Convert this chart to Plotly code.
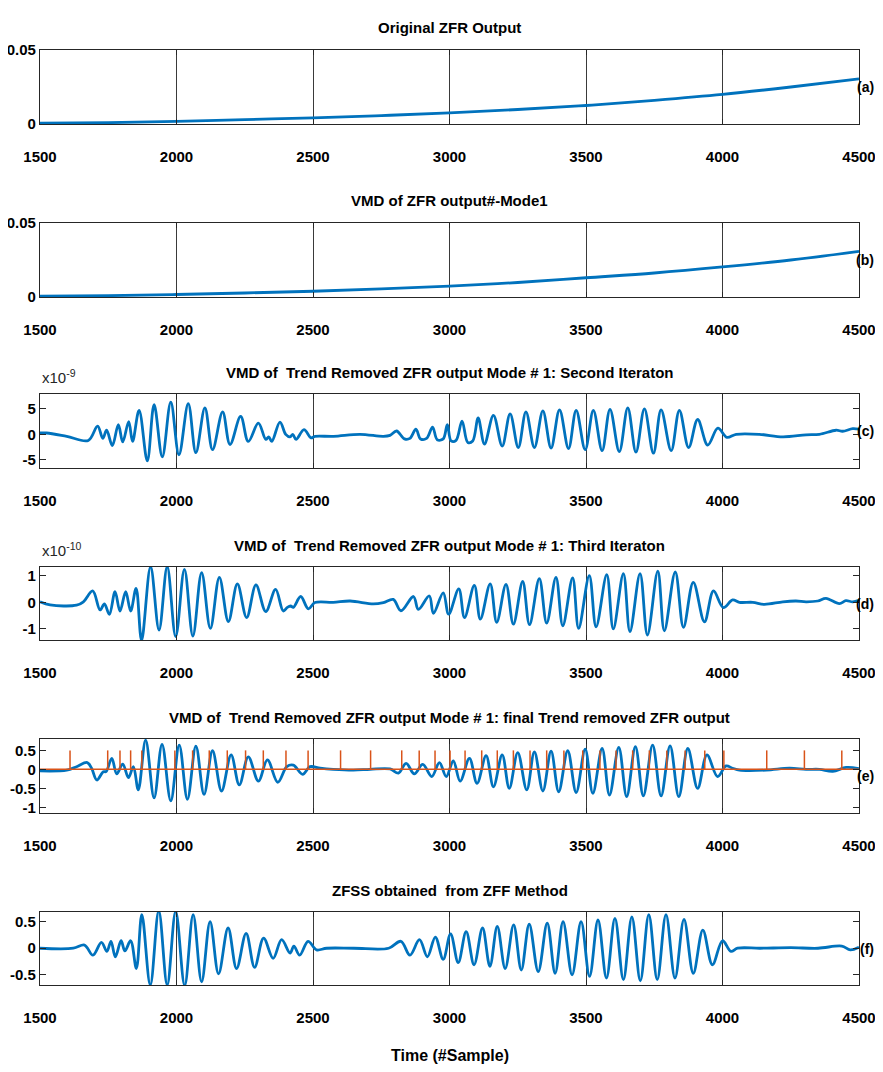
import plotly.graph_objects as go

# ---------------- data ----------------
x_ticks = [1500, 2000, 2500, 3000, 3500, 4000, 4500]

a_x = [1500, 1750, 2000, 2250, 2500, 2750, 3000, 3250, 3500, 3750, 4000, 4250, 4500]
a_y = [0.0005, 0.0009, 0.0018, 0.003, 0.0041, 0.0057, 0.0075, 0.0098, 0.0125, 0.016, 0.020, 0.025, 0.0305]

b_x = [1500, 1750, 2000, 2250, 2500, 2750, 3000, 3250, 3500, 3750, 4000, 4250, 4500]
b_y = [0.0005, 0.0009, 0.0017, 0.0027, 0.0039, 0.0055, 0.0074, 0.0098, 0.013, 0.0162, 0.0203, 0.025, 0.0309]

# panel (c): values in units of 1e-9
c_x = [1500, 1524, 1598, 1677, 1711, 1730, 1744, 1765, 1787, 1803, 1825, 1839, 1863, 1893, 1918, 1948,
       1979, 2009, 2043, 2071, 2104, 2132, 2169, 2196, 2235, 2263, 2300, 2327, 2338, 2349, 2379, 2400,
       2416, 2426, 2438, 2467, 2493, 2507, 2575, 2672, 2758, 2782, 2806, 2835, 2855, 2877, 2894, 2916,
       2938, 2955, 2977, 2992, 3006, 3024, 3046, 3067, 3085, 3105, 3128, 3161, 3193, 3222, 3252, 3280,
       3311, 3342, 3372, 3403, 3436, 3464, 3497, 3527, 3559, 3588, 3622, 3653, 3683, 3714, 3747, 3775,
       3812, 3842, 3876, 3909, 3946, 3983, 4016, 4050, 4135, 4221, 4306, 4355, 4416, 4440, 4477, 4500]
c_y = [0.26, 0.26, -0.4, -1.2, 1.6, -0.8, 0.8, -2.2, 1.9, -1.5, 2.5, -1.4, 4.7, -5.2, 5.8, -4.4,
       6.3, -4.0, 6.0, -3.6, 5.2, -3.0, 4.4, -2.0, 3.5, -1.4, 2.2, -1.0, -0.5, -1.4, 2.4, 0.0,
       -0.5, 0.0, -1.0, 0.9, -0.7, -0.4, -0.4, 0.0, -0.4, -0.2, 0.65, -0.9, -0.8, 1.0, -0.9, -0.8,
       1.4, -1.05, -0.9, 1.9, -1.3, -1.2, 2.6, -1.6, -1.3, 3.2, -1.9, 3.7, -2.3, 4.0, -2.6, 4.4,
       -2.6, 4.6, -2.7, 4.8, -2.8, 4.7, -3.0, 4.7, -3.2, 4.9, -3.4, 5.2, -3.5, 5.0, -3.7, 4.8,
       -3.2, 4.7, -2.6, 2.9, -2.1, 1.2, -0.6, 0.0, 0.0, -0.5, -0.1, 0.0, 0.8, 0.6, 1.1, 1.0]
c_scale = 1e-9

# panel (d): values in units of 1e-10
d_x = [1500, 1537, 1634, 1659, 1693, 1720, 1736, 1754, 1775, 1793, 1814, 1832, 1852, 1872, 1905, 1936,
       1966, 1997, 2029, 2060, 2092, 2124, 2157, 2190, 2223, 2257, 2291, 2327, 2363, 2391, 2406, 2418,
       2428, 2455, 2483, 2507, 2574, 2636, 2721, 2758, 2794, 2822, 2868, 2886, 2926, 2941, 2977, 2997,
       3034, 3055, 3091, 3113, 3149, 3173, 3207, 3234, 3268, 3293, 3329, 3356, 3390, 3415, 3451, 3473,
       3512, 3537, 3576, 3600, 3637, 3661, 3698, 3725, 3763, 3787, 3827, 3857, 3893, 3934, 3967, 4003,
       4037, 4062, 4111, 4153, 4221, 4269, 4306, 4349, 4379, 4428, 4452, 4477, 4500]
d_y = [0.02, -0.1, -0.11, 0.02, 0.43, -0.29, -0.06, -0.46, 0.4, -0.33, 0.4, -0.33, 0.53, -1.45, 1.35, -1.05,
       1.35, -1.3, 1.25, -1.28, 1.13, -0.99, 0.95, -0.73, 0.7, -0.58, 0.66, -0.35, 0.49, -0.33, -0.19, -0.14,
       -0.19, 0.22, -0.25, -0.01, 0.0, 0.05, -0.06, -0.01, 0.11, -0.32, 0.22, -0.27, 0.24, -0.42, 0.36, -0.45,
       0.51, -0.58, 0.64, -0.64, 0.7, -0.76, 0.68, -0.83, 0.79, -0.85, 0.9, -0.79, 0.95, -0.89, 0.93, -0.99,
       1.01, -0.93, 1.05, -1.01, 1.09, -1.11, 1.09, -1.24, 1.18, -1.08, 1.15, -0.95, 0.76, -0.74, 0.43, -0.2,
       0.09, 0.0, 0.0, -0.08, 0.02, 0.05, 0.02, 0.05, 0.15, -0.05, 0.06, 0.02, 0.08]
d_scale = 1e-10

e_x = [1500, 1598, 1634, 1673, 1689, 1708, 1732, 1742, 1763, 1781, 1803, 1824, 1842, 1860, 1887, 1918,
       1947, 1979, 2010, 2040, 2071, 2101, 2132, 2165, 2200, 2230, 2263, 2300, 2333, 2371, 2404, 2428,
       2462, 2489, 2526, 2574, 2648, 2709, 2782, 2813, 2841, 2871, 2902, 2935, 2963, 2988, 3014, 3039,
       3073, 3101, 3134, 3161, 3193, 3219, 3250, 3283, 3311, 3342, 3372, 3400, 3433, 3464, 3497, 3525,
       3559, 3586, 3620, 3649, 3681, 3710, 3744, 3775, 3808, 3840, 3873, 3909, 3943, 3982, 4013, 4037,
       4062, 4160, 4245, 4306, 4355, 4404, 4453, 4500]
e_y = [-0.04, -0.02, 0.07, 0.18, 0.03, -0.28, -0.06, -0.06, 0.29, -0.12, 0.14, -0.22, 0.07, -0.54, 0.77, -0.75,
       0.66, -0.83, 0.64, -0.79, 0.61, -0.66, 0.49, -0.57, 0.38, -0.41, 0.33, -0.31, 0.25, -0.34, 0.07, 0.11,
       -0.13, 0.07, 0.03, 0.0, -0.02, 0.0, 0.01, -0.1, 0.16, -0.12, 0.13, -0.19, 0.18, -0.19, 0.22, -0.31,
       0.29, -0.37, 0.36, -0.46, 0.38, -0.5, 0.44, -0.54, 0.46, -0.57, 0.48, -0.59, 0.49, -0.61, 0.53, -0.63,
       0.55, -0.68, 0.58, -0.72, 0.6, -0.7, 0.64, -0.7, 0.62, -0.72, 0.55, -0.5, 0.38, -0.19, 0.09, 0.03,
       -0.02, -0.02, 0.03, 0.0, 0.0, -0.05, 0.05, 0.02]

e_stem_x = [1610, 1748, 1793, 1832, 1873, 1994, 2059, 2120, 2186, 2253, 2318, 2401, 2482, 2601, 2711,
            2825, 2889, 2947, 3002, 3057, 3118, 3175, 3234, 3295, 3356, 3419, 3488, 3551, 3610, 3671,
            3732, 3796, 3863, 3935, 4005, 4162, 4300, 4437]
e_stem_height = 0.5

f_x = [1500, 1622, 1663, 1694, 1725, 1745, 1760, 1776, 1797, 1811, 1832, 1853, 1873, 1904, 1935, 1966,
       1997, 2030, 2061, 2092, 2123, 2154, 2189, 2220, 2255, 2286, 2319, 2354, 2385, 2416, 2430, 2451,
       2482, 2513, 2550, 2650, 2777, 2822, 2855, 2890, 2919, 2948, 2977, 3004, 3032, 3061, 3090, 3121,
       3148, 3175, 3204, 3235, 3263, 3292, 3325, 3358, 3387, 3416, 3449, 3482, 3513, 3544, 3575, 3606,
       3637, 3668, 3699, 3730, 3761, 3793, 3826, 3859, 3893, 3928, 3963, 4000, 4031, 4055, 4138, 4250,
       4350, 4437, 4468, 4500]
f_y = [0.0, 0.0, 0.06, -0.13, 0.11, -0.06, 0.13, -0.16, 0.14, -0.05, 0.14, -0.38, 0.63, -0.69, 0.7, -0.69,
       0.69, -0.7, 0.63, -0.63, 0.5, -0.48, 0.38, -0.38, 0.28, -0.36, 0.19, -0.19, 0.16, -0.09, 0.04, -0.13,
       0.13, -0.03, 0.0, 0.0, 0.0, 0.13, -0.13, 0.16, -0.16, 0.21, -0.21, 0.27, -0.27, 0.31, -0.31, 0.38,
       -0.34, 0.41, -0.38, 0.44, -0.41, 0.45, -0.44, 0.47, -0.47, 0.5, -0.5, 0.5, -0.53, 0.53, -0.56, 0.56,
       -0.59, 0.59, -0.61, 0.63, -0.59, 0.63, -0.56, 0.54, -0.47, 0.34, -0.31, 0.14, -0.06, 0.0, 0.0, 0.01,
       0.0, 0.04, -0.03, 0.02]

titles = ["Original ZFR Output",
          "VMD of ZFR output#-Mode1",
          "VMD of  Trend Removed ZFR output Mode # 1: Second Iteraton",
          "VMD of  Trend Removed ZFR output Mode # 1: Third Iteraton",
          "VMD of  Trend Removed ZFR output Mode # 1: final Trend removed ZFR output",
          "ZFSS obtained  from ZFF Method"]
panel_tags = ["(a)", "(b)", "(c)", "(d)", "(e)", "(f)"]
x_label = "Time (#Sample)"

for xs, ys in [(a_x, a_y), (b_x, b_y), (c_x, c_y), (d_x, d_y), (e_x, e_y), (f_x, f_y)]:
    assert len(xs) == len(ys), (len(xs), len(ys))

# ---------------- layout / style ----------------
OFF = 8                      # the page body has an 8px default margin
W, H = 883 - 2 * OFF, 1072 - 2 * OFF   # sized so that the page never overflows (no scrollbars)
PL, PR = 40 - OFF, 859 - OFF
panel_px = [(50, 124), (223, 297), (394, 468), (567, 640), (739, 813), (912, 985)]
panel_px = [(t - OFF, b - OFF) for t, b in panel_px]
BLUE = "#0072BD"
ORANGE = "#D95319"
AX = "#262626"
FONT = "Liberation Sans, Arial, Helvetica, sans-serif"
TICK_SIZE = 15
TITLE_SIZE = 15

series = [
    (a_x, a_y),
    (b_x, b_y),
    (c_x, [v * c_scale for v in c_y]),
    (d_x, [v * d_scale for v in d_y]),
    (e_x, e_y),
    (f_x, f_y),
]
y_ranges = [[0, 0.05], [0, 0.05], [-6.6e-9, 7.9e-9], [-1.43e-10, 1.34e-10], [-1.15, 0.8], [-0.69, 0.68]]
y_tickvals = [[0, 0.05], [0, 0.05], [-5e-9, 0, 5e-9], [-1e-10, 0, 1e-10], [-1, -0.5, 0, 0.5], [-0.5, 0, 0.5]]
y_ticktext = [["0", "0.05"], ["0", "0.05"], ["-5", "0", "5"], ["-1", "0", "1"],
              ["-1", "-0.5", "0", "0.5"], ["-0.5", "0", "0.5"]]

fig = go.Figure()
layout = dict(width=W, height=H, margin=dict(l=0, r=0, t=0, b=0, autoexpand=False),
              paper_bgcolor="white", plot_bgcolor="white", showlegend=False,
              font=dict(family=FONT, color="#000000"))
annotations = []


def py(p):
    return 1 - p / H


for i in range(6):
    n = "" if i == 0 else str(i + 1)
    xs, ys = series[i]
    fig.add_trace(go.Scatter(x=xs, y=ys, mode="lines", line=dict(color=BLUE, width=2.8, shape="spline"),
                             xaxis="x" + n, yaxis="y" + n, hoverinfo="skip"))
    top, bot = panel_px[i]
    layout["xaxis" + n] = dict(domain=[PL / W, PR / W], anchor="y" + n, range=[1500, 4500],
                               automargin=False, ticklabeloverflow="allow",
                               tickvals=x_ticks, ticktext=[str(v) for v in x_ticks],
                               showgrid=True, gridcolor="#3a3a3a", gridwidth=1,
                               showline=True, linecolor=AX, linewidth=1.3, mirror="ticks",
                               ticks="inside", ticklen=5, tickcolor=AX, zeroline=False,
                               ticklabelstandoff=19,
                               tickfont=dict(family=FONT, size=TICK_SIZE, color="#000", weight="bold"))
    layout["yaxis" + n] = dict(domain=[py(bot), py(top)], anchor="x" + n, range=y_ranges[i],
                               automargin=False, ticklabeloverflow="allow",
                               tickvals=y_tickvals[i], ticktext=y_ticktext[i],
                               showgrid=False, zeroline=False,
                               showline=True, linecolor=AX, linewidth=1.3, mirror="ticks",
                               ticks="inside", ticklen=6, tickcolor=AX,
                               ticklabelstandoff=0,
                               tickfont=dict(family=FONT, size=TICK_SIZE, color="#000", weight="bold"))
    annotations.append(dict(text=titles[i], xref="paper", yref="paper", x=(PL + PR) / 2 / W,
                            y=py(top - 22), xanchor="center", yanchor="middle", showarrow=False,
                            font=dict(family=FONT, size=TITLE_SIZE, color="#000", weight="bold")))
    annotations.append(dict(text=panel_tags[i], xref="paper", yref="paper", x=1.0,
                            y=py((top + bot) / 2), xanchor="right", yanchor="middle", showarrow=False,
                            borderpad=0,
                            font=dict(family=FONT, size=14, color="#000", weight="bold")))

# stems for panel (e)
stem_x, stem_y = [], []
for sx in e_stem_x:
    stem_x += [sx, sx, None]
    stem_y += [0, e_stem_height, None]
fig.add_trace(go.Scatter(x=stem_x, y=stem_y, mode="lines", line=dict(color=ORANGE, width=1.5),
                         xaxis="x5", yaxis="y5", hoverinfo="skip"))
fig.add_trace(go.Scatter(x=[1500, 4500], y=[0, 0], mode="lines", line=dict(color=ORANGE, width=1.5),
                         xaxis="x5", yaxis="y5", hoverinfo="skip"))

# exponent labels
annotations.append(dict(text="x10<sup>-9</sup>", xref="paper", yref="paper", x=PL / W, y=py(377 - OFF),
                        xanchor="left", yanchor="middle", showarrow=False,
                        font=dict(family=FONT, size=15, color="#262626")))
annotations.append(dict(text="x10<sup>-10</sup>", xref="paper", yref="paper", x=PL / W, y=py(549 - OFF),
                        xanchor="left", yanchor="middle", showarrow=False,
                        font=dict(family=FONT, size=15, color="#262626")))
# x label
annotations.append(dict(text=x_label, xref="paper", yref="paper", x=(PL + PR) / 2 / W, y=py(1055 - OFF),
                        xanchor="center", yanchor="middle", showarrow=False,
                        font=dict(family=FONT, size=16, color="#000", weight="bold")))

layout["annotations"] = annotations
fig.update_layout(**layout)
fig.write_html("out.html")
